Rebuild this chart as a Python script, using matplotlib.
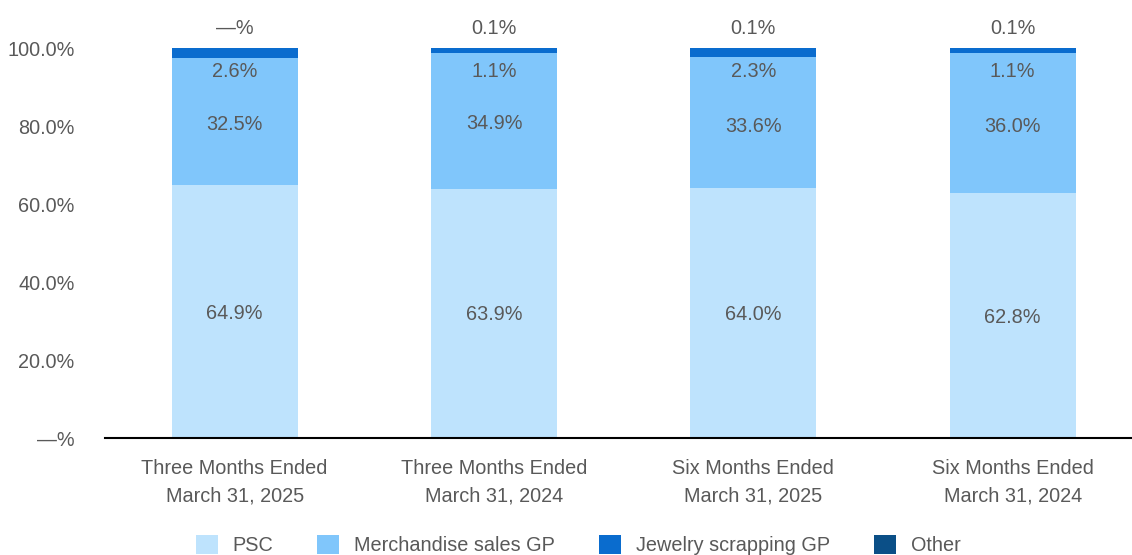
import matplotlib
matplotlib.use("Agg")
import matplotlib.pyplot as plt
from matplotlib import font_manager

names = {f.name for f in font_manager.fontManager.ttflist}
narrow = "Liberation Sans Narrow" in names
fam = [n for n in ["Liberation Sans Narrow", "Liberation Sans", "DejaVu Sans"] if n in names]
plt.rcParams['font.family'] = fam

categories = ["Three Months Ended\nMarch 31, 2025", "Three Months Ended\nMarch 31, 2024",
              "Six Months Ended\nMarch 31, 2025", "Six Months Ended\nMarch 31, 2024"]
psc = [64.9, 63.9, 64.0, 62.8]
merch = [32.5, 34.9, 33.6, 36.0]
jewelry = [2.6, 1.1, 2.3, 1.1]
other = [0.0, 0.1, 0.1, 0.1]
other_labels = ["—%", "0.1%", "0.1%", "0.1%"]
yticks = [0, 20, 40, 60, 80, 100]
ytick_labels = ["—%", "20.0%", "40.0%", "60.0%", "80.0%", "100.0%"]

series_names = ["PSC", "Merchandise sales GP", "Jewelry scrapping GP", "Other"]
colors = ["#BEE3FD", "#80C6FB", "#0A6CCE", "#0B4F87"]
txt = "#595959"
fs = 16.8 if narrow else 14.3
fpx = fs * 100 / 72

fig = plt.figure(figsize=(11.32, 5.55), dpi=100)
ax = fig.add_axes([105/1132, 1-438/555, 1-105/1132, 390/555])

x = list(range(len(categories)))
w = 0.486
bottom = [0.0]*4
for vals, c, n in zip([psc, merch, jewelry, other], colors, series_names):
    ax.bar(x, vals, w, bottom=bottom, color=c, label=n, edgecolor='none')
    bottom = [b+v for b, v in zip(bottom, vals)]

for i in x:
    ax.text(i, psc[i]/2 - 0.4, f"{psc[i]:.1f}%", ha='center', va='center', fontsize=fs, color=txt)
    ax.text(i, psc[i] + merch[i]/2 - 0.8, f"{merch[i]:.1f}%", ha='center', va='center', fontsize=fs, color=txt)
    ax.text(i, 94.0, f"{jewelry[i]:.1f}%", ha='center', va='center', fontsize=fs, color=txt)
    ax.text(i, 105.0, other_labels[i], ha='center', va='center', fontsize=fs, color=txt, clip_on=False)

ax.set_xlim(-0.5, 3.46)
ax.set_ylim(0, 100)
ax.set_yticks(yticks)
ax.set_yticklabels(ytick_labels)
ax.set_xticks(x)
ax.set_xticklabels(categories, linespacing=1.55)
ax.tick_params(axis='y', length=0, pad=22, labelsize=fs, labelcolor=txt)
ax.tick_params(axis='x', length=0, pad=15, labelsize=fs, labelcolor=txt)
for s in ['top', 'right', 'left']:
    ax.spines[s].set_visible(False)
ax.spines['bottom'].set_linewidth(1.5)
ax.spines['bottom'].set_color('black')

leg = fig.legend(loc='center', bbox_to_anchor=(0.511, 0.018), ncol=4, frameon=False,
                 fontsize=fs, handlelength=22/fpx, handleheight=22/fpx, handletextpad=15/fpx,
                 columnspacing=44/fpx, labelcolor=txt)

fig.savefig("out.png", dpi=100)
